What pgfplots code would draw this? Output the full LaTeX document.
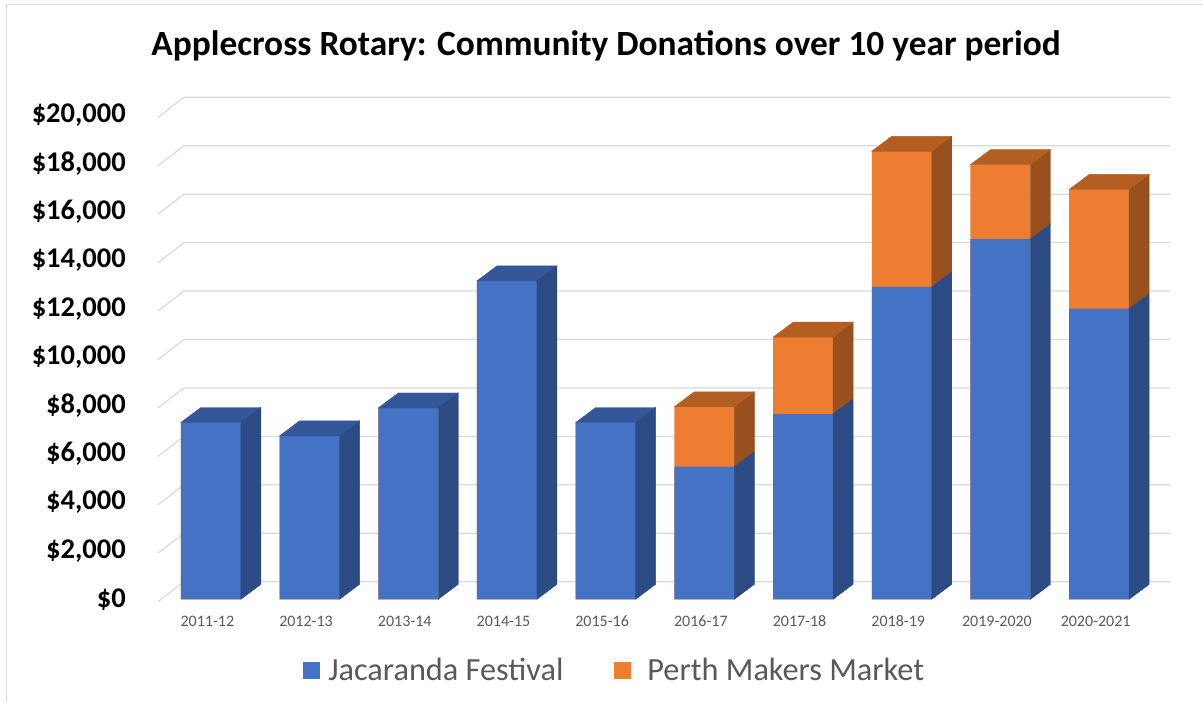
\documentclass[border=0pt]{standalone}
\usepackage{pgfplots}
\pgfplotsset{compat=1.18}
\usepackage{pgfplotstable}
\usepackage{fontspec}
\setmainfont{Carlito}

\definecolor{jblue}{RGB}{68,114,196}
\definecolor{jblueside}{RGB}{44,75,133}
\definecolor{jbluetop}{RGB}{51,87,153}
\definecolor{porange}{RGB}{237,125,49}
\definecolor{porangeside}{RGB}{151,80,30}
\definecolor{porangetop}{RGB}{180,94,34}
\definecolor{gridgray}{RGB}{217,217,217}
\definecolor{txtgray}{RGB}{89,89,89}

% donations per year, Jacaranda Festival (blue) and Perth Makers Market (orange)
\pgfplotstableread{
x blue  orange
0 7300  0
1 6750  0
2 7900  0
3 13150 0
4 7300  0
5 5475  2475
6 7650  3175
7 12900 5600
8 14875 3075
9 12000 4925
}\donations

\newdimen\barlo
\newdimen\barhi
\pgfdeclareplotmark{nothing}{}

\begin{document}
\begin{tikzpicture}
\useasboundingbox (0,0) rectangle (1203pt,702pt);
\draw[gridgray, line width=1pt] (6pt,0pt) -- (6pt,697pt) -- (1203pt,697pt);
\node[font=\fontsize{35.4}{40}\selectfont\bfseries, anchor=base] at (606pt,646pt)
  {Applecross Rotary: Community Donations over 10 year period};
\begin{axis}[
  at={(158pt,102.7pt)}, anchor=south west,
  scale only axis, width=987pt, height=484.4pt,
  xmin=-0.5, xmax=9.5, ymin=0, ymax=20000,
  clip=false,
  axis line style={draw=none},
  tick style={draw=none}, major tick length=0pt,
  xtick={0,...,9},
  xticklabels={2011-12,2012-13,2013-14,2014-15,2015-16,2016-17,2017-18,2018-19,2019-2020,2020-2021},
  xticklabel style={font=\fontsize{16}{18}\selectfont, text=txtgray, anchor=north, inner sep=0pt, yshift=-16.5pt},
  ytick={0,2000,...,20000},
  scaled y ticks=false,
  yticklabel={\$\pgfmathprintnumber{\tick}},
  yticklabel style={font=\fontsize{28.5}{30}\selectfont\bfseries, anchor=east, inner sep=0pt, xshift=-32pt,
    /pgf/number format/.cd, fixed, precision=0, 1000 sep={,}, assume math mode=true},
  legend columns=2,
  legend image code/.code={\fill[#1] (0pt,-8.5pt) rectangle (17pt,8.5pt);},
  legend style={draw=none, fill=none, at={(0.147,-0.146)}, anchor=west,
    inner sep=0pt, font=\fontsize{32.3}{34}\selectfont, text=txtgray,
    nodes={inner xsep=8pt, inner ysep=0pt},
    /tikz/every even column/.append style={column sep=43pt}},
]
% back-wall grid lines with their slanted floor ends
\pgfplotsinvokeforeach{0,2000,4000,6000,8000,10000,12000,14000,16000,18000,20000}{
  \draw[gridgray, line width=1.2pt] ([yshift=-2.4pt]axis cs:-0.5,#1) -- ++(26pt,20pt)
    -- ([xshift=25pt,yshift=17.6pt]axis cs:9.5,#1);
}

% front faces: orange total first, blue on top of its lower part
\addplot[ybar, bar width=60pt, bar shift=3.5pt, fill=porange, draw=none, forget plot]
  table[x=x, y expr=\thisrow{blue}+\thisrow{orange}] {\donations};
\addplot[ybar, bar width=60pt, bar shift=3.5pt, fill=jblue, draw=none]
  table[x=x, y=blue] {\donations};
\addlegendentry{Jacaranda Festival}
\addlegendimage{fill=porange, draw=none}
\addlegendentry{\hspace{8pt}Perth Makers Market}

% depth: side and top faces of each bar
\addplot[forget plot, only marks, mark=nothing, scatter, point meta=\thisrow{x},
  visualization depends on={\thisrow{blue} \as \vb},
  visualization depends on={\thisrow{orange} \as \vo},
  scatter/@pre marker code/.code={%
    \pgfmathsetlength{\barlo}{\vb*0.02422}%
    \pgfmathsetlength{\barhi}{\vb*0.02422+\vo*0.02422}%
    \pgfmathparse{\vo>0 ? 1 : 0}%
    \ifdim\pgfmathresult pt>0.5pt
      \fill[porangeside] (33.5pt,\barlo) -- (33.5pt,\barhi) -- (53.5pt,\barhi+15pt) -- (53.5pt,\barlo+15pt) -- cycle;
      \fill[porangetop] (-26.5pt,\barhi) -- (33.5pt,\barhi) -- (53.5pt,\barhi+15pt) -- (-6.5pt,\barhi+15pt) -- cycle;
    \else
      \fill[jbluetop] (-26.5pt,\barlo) -- (33.5pt,\barlo) -- (53.5pt,\barlo+15pt) -- (-6.5pt,\barlo+15pt) -- cycle;
    \fi
    \fill[jblueside] (33.5pt,0pt) -- (33.5pt,\barlo) -- (53.5pt,\barlo+15pt) -- (53.5pt,15pt) -- cycle;
  },
  scatter/@post marker code/.code={},
] table[x=x, y expr=0] {\donations};
\end{axis}
\end{tikzpicture}
\end{document}
